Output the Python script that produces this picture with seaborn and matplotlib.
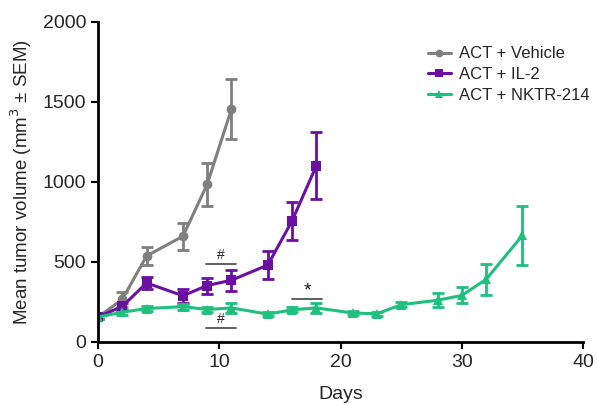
import matplotlib
matplotlib.use("Agg")
import matplotlib.pyplot as plt
import seaborn as sns
import pandas as pd
import numpy as np

# Data
veh_days = [0, 2, 4, 7, 9, 11]
veh_mean = [155, 265, 537, 660, 985, 1455]
veh_sem = [15, 45, 55, 85, 135, 190]

il2_days = [0, 2, 4, 7, 9, 11, 14, 16, 18]
il2_mean = [155, 222, 368, 288, 352, 385, 480, 756, 1100]
il2_sem = [15, 20, 40, 45, 50, 65, 85, 120, 210]

nk_days = [0, 2, 4, 7, 9, 11, 14, 16, 18, 21, 23, 25, 28, 30, 32, 35]
nk_mean = [155, 185, 208, 220, 202, 212, 173, 200, 212, 180, 175, 232, 260, 290, 390, 665]
nk_sem = [15, 15, 15, 18, 15, 33, 12, 15, 32, 12, 12, 15, 45, 50, 95, 187]

groups = ["ACT + Vehicle", "ACT + IL-2", "ACT + NKTR-214"]
colors = ["#7f7f7f", "#6b0fa3", "#1fbf7d"]
markers = ["o", "s", "^"]

df = pd.concat([
    pd.DataFrame({"Days": veh_days, "Volume": veh_mean, "SEM": veh_sem, "Group": groups[0]}),
    pd.DataFrame({"Days": il2_days, "Volume": il2_mean, "SEM": il2_sem, "Group": groups[1]}),
    pd.DataFrame({"Days": nk_days, "Volume": nk_mean, "SEM": nk_sem, "Group": groups[2]}),
])

sns.set_theme(style="white")
plt.rcParams['font.family'] = ['Liberation Sans', 'DejaVu Sans']

fig = plt.figure(figsize=(5.98, 4.05), dpi=100)
ax = fig.add_axes([0.164, 0.156, 0.811, 0.790])

palette = dict(zip(groups, colors))
sns.lineplot(data=df, x="Days", y="Volume", hue="Group", style="Group",
             markers=dict(zip(groups, markers)), dashes=False, palette=palette,
             hue_order=groups, style_order=groups,
             linewidth=2.2, markersize=7, markeredgewidth=0, ax=ax, legend=True)

for g, c in zip(groups, colors):
    sub = df[df.Group == g]
    ax.errorbar(sub.Days, sub.Volume, yerr=sub.SEM, fmt="none", ecolor=c,
                elinewidth=2, capsize=4, capthick=2, zorder=1)

# annotations
ax.plot([8.9, 11.4], [487, 487], color="#444444", lw=1.2)
ax.text(10.15, 500, "#", ha="center", va="bottom", fontsize=10, color="#222222")
ax.plot([8.9, 11.4], [88, 88], color="#444444", lw=1.2)
ax.text(10.15, 98, "#", ha="center", va="bottom", fontsize=10, color="#222222")
ax.plot([16.0, 18.5], [270, 270], color="#444444", lw=1.2)
ax.text(17.25, 262, "*", ha="center", va="bottom", fontsize=14, color="#111111")

ax.set_xlim(0, 40)
ax.set_ylim(0, 2000)
ax.set_xticks([0, 10, 20, 30, 40])
ax.set_yticks([0, 500, 1000, 1500, 2000])
ax.set_xlabel("Days", fontsize=14, labelpad=11)
ax.set_ylabel("Mean tumor volume (mm$^3$ ± SEM)", fontsize=13.5, labelpad=6)
for s in ["top", "right"]:
    ax.spines[s].set_visible(False)
for s in ["left", "bottom"]:
    ax.spines[s].set_color("black")
    ax.spines[s].set_linewidth(2)
ax.tick_params(axis="both", direction="out", length=5, width=1.5, color="black",
               labelsize=14, left=True, bottom=True)

leg = ax.legend(loc="upper right", bbox_to_anchor=(1.045, 0.97), frameon=False,
                fontsize=12, handlelength=1.4, handletextpad=0.5,
                labelspacing=0.35, markerscale=0.8)
leg.set_title(None)

fig.savefig("out.png", dpi=100)
